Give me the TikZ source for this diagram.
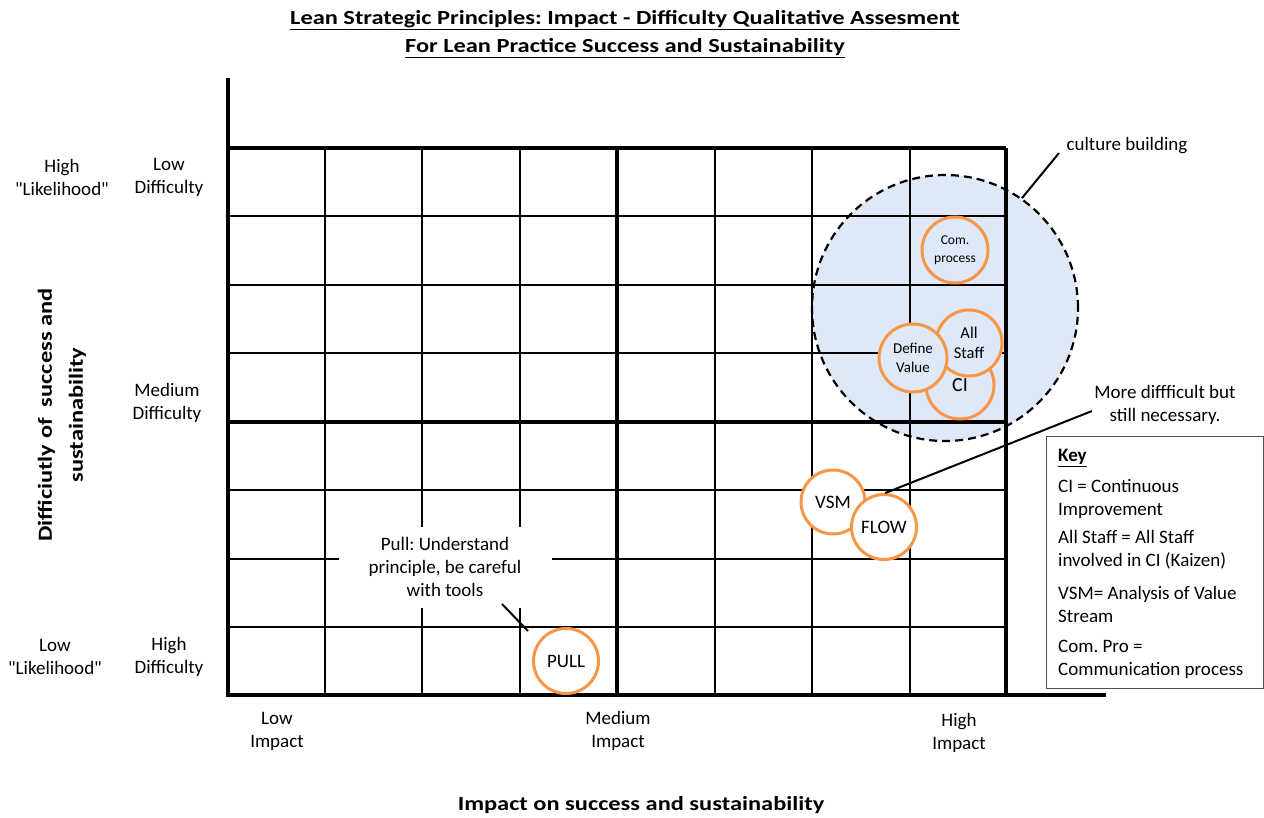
\documentclass[tikz,border=0pt]{standalone}
\usepackage{fontspec}
\usepackage{graphicx}
\setmainfont{Carlito}[Ligatures=TeXOff]
\frenchspacing
\definecolor{leanorange}{RGB}{247,150,70}
\definecolor{cultureblue}{RGB}{223,232,246}
\definecolor{keygray}{RGB}{80,80,80}
\newcommand{\widebold}[1]{\scalebox{1.22}[1]{\bfseries #1}}
\begin{document}
\begin{tikzpicture}[x=1pt,y=-1pt,
    thinline/.style={line width=2pt},
    thickline/.style={line width=4pt},
    lbl/.style={align=center,inner sep=0pt,font=\fontsize{19}{23}\selectfont},
    keytxt/.style={align=left,anchor=west,inner sep=0pt,font=\fontsize{19}{23}\selectfont},
    axistitle/.style={align=center,inner sep=0pt,font=\fontsize{20}{31}\selectfont},
    practice/.style={circle,draw=leanorange,line width=3pt,fill=white,inner sep=0pt,
      align=center,minimum size=65pt,font=\fontsize{19}{20}\selectfont},
    culture/.style={circle,draw,dashed,dash pattern=on 8pt off 5pt,line width=2.2pt,
      minimum size=266pt,inner sep=0pt},
    pointer/.style={line width=2pt},
  ]
  \useasboundingbox (0,0) rectangle (1264,817);

  % titles
  \node[inner sep=0pt,font=\fontsize{20}{28}\selectfont] (title1) at (625,20)
    {\widebold{\underline{Lean Strategic Principles: Impact - Difficulty Qualitative Assesment}}};
  \node[inner sep=0pt,font=\fontsize{20}{28}\selectfont] (title2) at (625,48)
    {\widebold{\underline{For Lean Practice Success and Sustainability}}};

  % shaded area behind the grid
  \fill[cultureblue] (945,308) circle (133pt);

  % grid
  \foreach \gx in {325,422,520,715,812,910}
    \draw[thinline] (\gx,148) -- (\gx,695);
  \foreach \gy in {216,285,353,490,559,627}
    \draw[thinline] (228,\gy) -- (1006,\gy);
  \foreach \gx in {617,1006}
    \draw[thickline] (\gx,148) -- (\gx,695);
  \foreach \gy in {148,422}
    \draw[thickline] (228,\gy) -- (1006,\gy);
  \draw[thickline] (228,78) -- (228,695) -- (1106,695);

  % culture building area
  \node[culture] (culture) at (945,308) {};
  \node[lbl] (culturelbl) at (1127,146) {culture building};
  \coordinate (culturetip) at (1059,153);
  \draw[pointer] (culture.55) -- (culturetip);

  % practices
  \node[practice,fill=cultureblue,minimum size=66pt,font=\fontsize{13.5}{18}\selectfont] (com) at (955,250) {Com.\\process};
  \node[practice,fill=cultureblue,minimum size=68pt,font=\fontsize{20}{20}\selectfont] (ci) at (960,385) {CI};
  \node[practice,fill=cultureblue,minimum size=66pt,font=\fontsize{16.5}{20}\selectfont] (staff) at (969,343) {All\\Staff};
  \node[practice,fill=cultureblue,minimum size=68pt,font=\fontsize{15}{19}\selectfont] (define) at (913,358) {Define\\Value};
  \node[practice,minimum size=64pt] (vsm) at (833,502) {VSM};
  \node[practice] (flow) at (884,527) {FLOW};
  \node[practice] (pull) at (566,661) {PULL};

  % notes
  \node[lbl] (morenote) at (1165,405) {More diffficult but\\still necessary.};
  \coordinate (moretip) at (1092,411);
  \draw[pointer] (flow.88) -- (moretip);

  \node[lbl,fill=white,minimum width=213pt,minimum height=81pt] (pullnote) at (445,567)
    {Pull: Understand\\principle, be careful\\with tools};
  \coordinate (pullfoot) at (502,604);
  \coordinate (pulltip) at (528,631);
  \draw[pointer] (pullfoot) -- (pulltip);

  % key
  \node[draw=keygray,line width=1.3pt,minimum width=217pt,minimum height=252pt,inner sep=0pt] (key) at (1155,562.5) {};
  \node[keytxt] (keyhead) at (1058,458) {\underline{\textbf{Key}}};
  \node[keytxt] (keyci) at (1058,498.5) {CI = Continuous\\Improvement};
  \node[keytxt] (keystaff) at (1058,549.5) {All Staff = All Staff\\involved in CI (Kaizen)};
  \node[keytxt] (keyvsm) at (1058,604.5) {VSM= Analysis of Value\\Stream};
  \node[keytxt] (keycom) at (1058,659.5) {Com. Pro =\\Communication process};

  % axis labels
  \node[lbl] (highlike) at (62,177) {High\\"Likelihood"};
  \node[lbl] (lowdiff) at (169,177) {Low\\Difficulty};
  \node[lbl] (meddiff) at (167,403) {Medium\\Difficulty};
  \node[lbl] (lowlike) at (55,657) {Low\\"Likelihood"};
  \node[lbl] (highdiff) at (169,657) {High\\Difficulty};
  \node[lbl] (lowimp) at (277,731) {Low\\Impact};
  \node[lbl] (medimp) at (618,731) {Medium\\Impact};
  \node[lbl] (highimp) at (959,733) {High\\Impact};
  \node[axistitle,rotate=90] (ytitle) at (62,415) {\widebold{Difficiutly of\ \ success and}\\\widebold{sustainability}};
  \node[axistitle] (xtitle) at (641,805) {\widebold{Impact on success and sustainability}};
\end{tikzpicture}
\end{document}
